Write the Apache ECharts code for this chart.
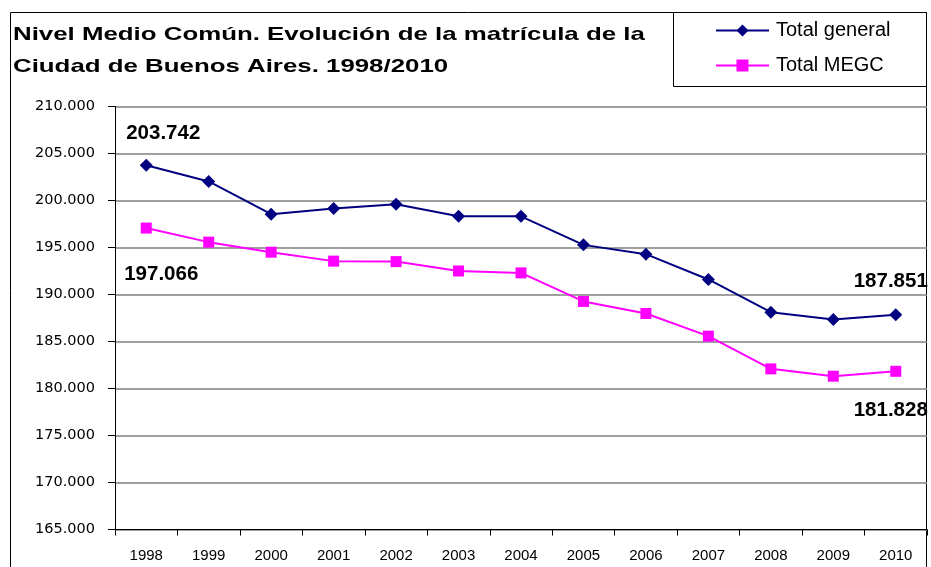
<!DOCTYPE html>
<html>
<head>
<meta charset="utf-8">
<script src="https://cdn.jsdelivr.net/npm/echarts@6/dist/echarts.min.js"></script>
<style>
  html, body { margin: 0; padding: 0; background: #fff; }
  #chart { width: 931px; height: 567px; }
</style>
</head>
<body>
<div id="chart"></div>
<script>
const years = ["1998", "1999", "2000", "2001", "2002", "2003", "2004",
  "2005", "2006", "2007", "2008", "2009", "2010"];
const totalGeneral = [203742, 202030, 198550, 199150, 199600, 198330, 198320,
  195280, 194290, 191600, 188120, 187340, 187851];
const totalMegc = [197066, 195570, 194500, 193550, 193500, 192500, 192300,
  189260, 187980, 185570, 182090, 181310, 181828];
const seriesNames = ["Total general", "Total MEGC"];
const titleLines = ["Nivel Medio Común. Evolución de la matrícula de la",
  "Ciudad de Buenos Aires. 1998/2010"];

// 203742 -> "203.742"
const fmt = n => String(Math.round(n)).replace(/\B(?=(\d{3})+(?!\d))/g, ".");

const FONT = "Arial, 'Liberation Sans', sans-serif";

const labelStyle = {
  show: true,
  position: "inside",
  color: "#000",
  fontFamily: FONT,
  fontWeight: "bold",
  fontSize: 20.5,
  formatter: p => fmt(p.value)
};

// only first and last point get a value label
const withLabels = (values, firstOffset, lastOffset) => values.map((v, i) => {
  if (i === 0) return { value: v, label: Object.assign({}, labelStyle, { offset: firstOffset }) };
  if (i === values.length - 1) return { value: v, label: Object.assign({}, labelStyle, { offset: lastOffset }) };
  return v;
});

// title is stretched horizontally in the original
const titleText = (text, y) => ({
  type: "text",
  x: 13,
  y: y,
  scaleX: 1.36,
  silent: true,
  style: {
    text: text,
    x: 0,
    y: 0,
    fill: "#000",
    font: "bold 19px " + FONT,
    textAlign: "left",
    textVerticalAlign: "middle"
  }
});

const chart = echarts.init(document.getElementById("chart"));

chart.setOption({
  animation: false,
  textStyle: { fontFamily: FONT },
  legend: {
    orient: "vertical",
    left: 710,
    top: 15,
    itemWidth: 53,
    itemHeight: 15,
    itemGap: 14,
    textStyle: { fontSize: 20, color: "#000", lineHeight: 21, padding: [0, 0, 0, 2] },
    data: seriesNames
  },
  graphic: [
    {
      type: "rect",
      shape: { x: 10.5, y: 12.5, width: 916, height: 600 },
      style: { fill: "none", stroke: "#000", lineWidth: 1 },
      silent: true
    },
    {
      type: "rect",
      shape: { x: 673.5, y: 12.5, width: 253, height: 74 },
      style: { fill: "none", stroke: "#000", lineWidth: 1 },
      silent: true
    },
    titleText(titleLines[0], 35),
    titleText(titleLines[1], 67)
  ],
  grid: {
    left: 115,
    right: 4,
    top: 106.5,
    bottom: 37.5
  },
  xAxis: {
    type: "category",
    data: years,
    boundaryGap: true,
    axisLine: { lineStyle: { color: "#000", width: 1 } },
    axisTick: { show: true, length: 6, lineStyle: { color: "#000" } },
    axisLabel: { color: "#000", fontSize: 15, margin: 19 }
  },
  yAxis: {
    type: "value",
    min: 165000,
    max: 210000,
    interval: 5000,
    axisLine: { show: true, lineStyle: { color: "#000", width: 1 } },
    axisTick: { show: true, length: 7, lineStyle: { color: "#000" } },
    axisLabel: {
      color: "#000",
      fontFamily: "'DejaVu Sans', sans-serif",
      fontSize: 14.5,
      margin: 20,
      formatter: v => fmt(v)
    },
    splitLine: { lineStyle: { color: "#808080", width: 1.5 } }
  },
  series: [
    {
      name: seriesNames[0],
      type: "line",
      data: withLabels(totalGeneral, [17, -32], [-5, -33]),
      symbol: "diamond",
      symbolSize: 13,
      color: "#000080",
      lineStyle: { color: "#000080", width: 2 },
      itemStyle: { color: "#000080" }
    },
    {
      name: seriesNames[1],
      type: "line",
      data: withLabels(totalMegc, [15, 46], [-5, 39]),
      symbol: "rect",
      symbolSize: 11,
      color: "#ff00ff",
      lineStyle: { color: "#ff00ff", width: 2 },
      itemStyle: { color: "#ff00ff" }
    }
  ]
});
</script>
</body>
</html>
